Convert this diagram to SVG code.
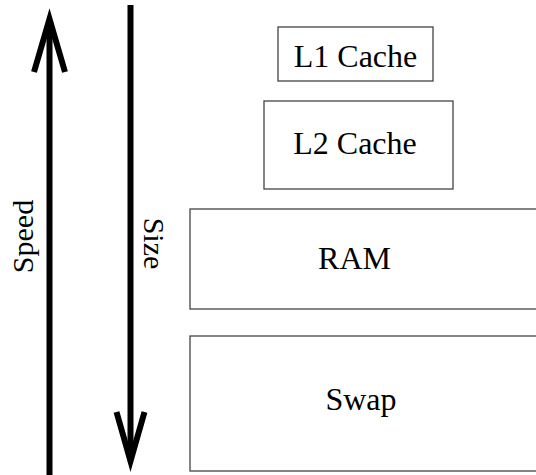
<svg xmlns="http://www.w3.org/2000/svg" width="536" height="475" viewBox="0 0 536 475">
  <style>
    .box { fill: #ffffff; stroke: #444444; stroke-width: 1.3; }
    text { font-family: "Liberation Serif", "Times New Roman", serif; fill: #000000; text-anchor: middle; }
    .lbl { font-size: 32px; }
    .axis { font-size: 30px; }
    .shaft { stroke: #000000; stroke-width: 6; fill: none; }
    .head { stroke: #000000; stroke-width: 6; fill: none; stroke-linejoin: miter; stroke-miterlimit: 10; }
  </style>
  <rect width="536" height="475" fill="#ffffff"/>

  <!-- axes: speed grows upward, size grows downward -->
  <g id="connectors">
    <line class="shaft" x1="49.5" y1="475" x2="49.5" y2="20"/>
    <path class="head" d="M34,72 L49.5,19 L65,72"/>
    <line class="shaft" x1="130.5" y1="5" x2="130.5" y2="460"/>
    <path class="head" d="M116.5,412 L130.5,461 L144.5,412"/>
  </g>

  <g id="speed-label">
    <text class="axis" transform="translate(33,236.5) rotate(-90)">Speed</text>
  </g>
  <g id="size-label">
    <text class="axis" transform="translate(143.5,243.5) rotate(90)">Size</text>
  </g>

  <g id="l1-cache">
    <rect class="box" x="278" y="27" width="155" height="54"/>
    <text class="lbl" x="355.5" y="66.5">L1 Cache</text>
  </g>
  <g id="l2-cache">
    <rect class="box" x="264" y="101" width="189" height="88"/>
    <text class="lbl" x="355" y="154">L2 Cache</text>
  </g>
  <g id="ram">
    <rect class="box" x="190" y="209" width="350" height="100"/>
    <text class="lbl" x="354.5" y="269">RAM</text>
  </g>
  <g id="swap">
    <rect class="box" x="190" y="336" width="350" height="135"/>
    <text class="lbl" x="361" y="410">Swap</text>
  </g>
</svg>
